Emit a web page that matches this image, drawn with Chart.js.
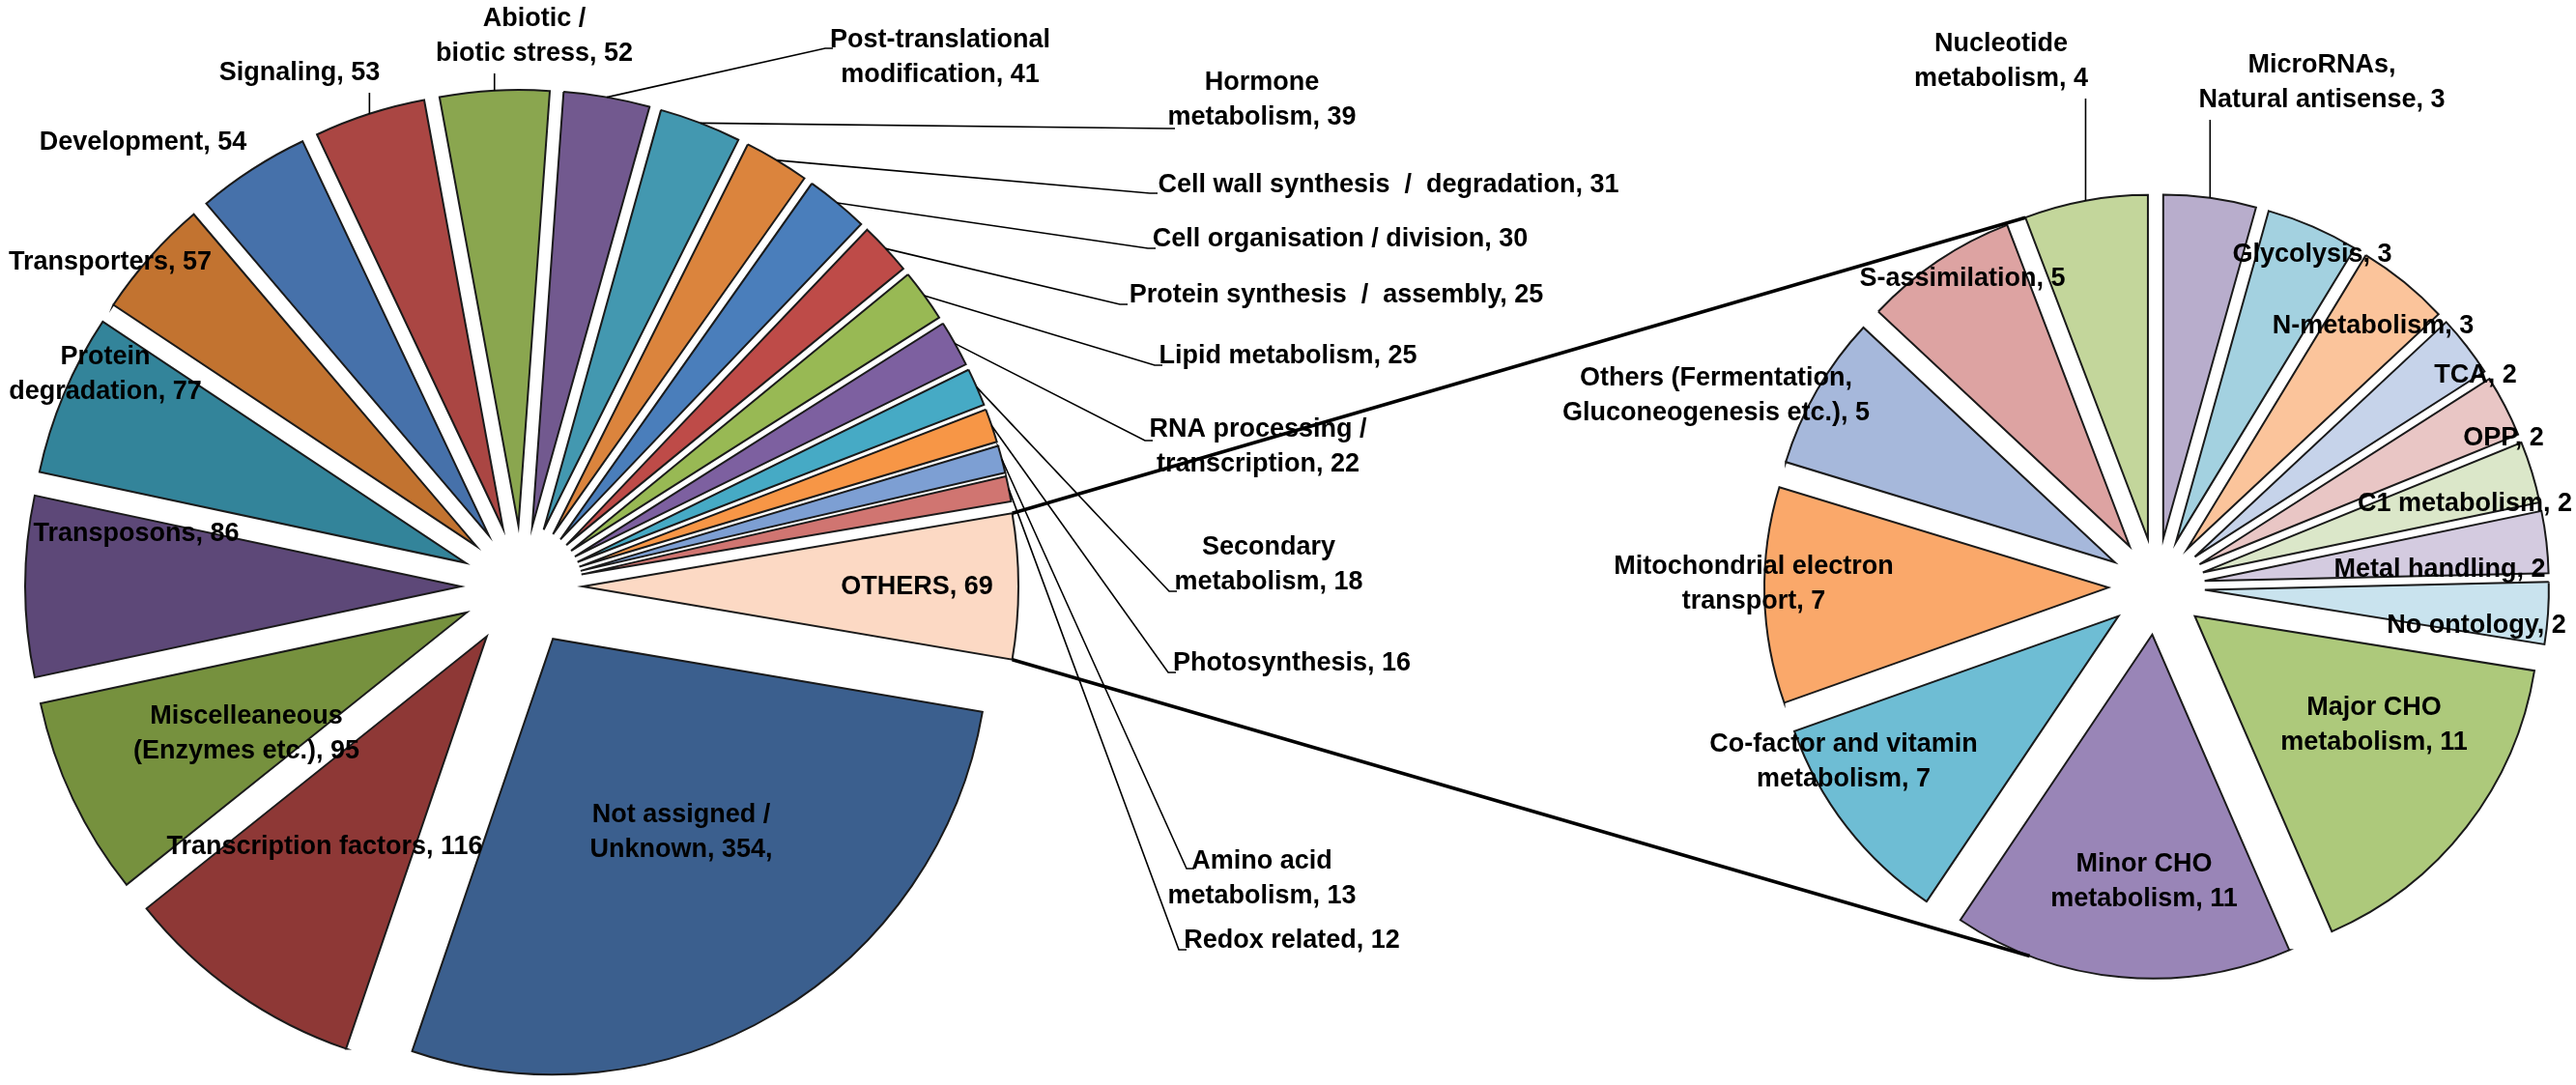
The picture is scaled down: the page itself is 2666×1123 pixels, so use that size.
<!DOCTYPE html>
<html><head><meta charset="utf-8">
<script src="https://cdn.jsdelivr.net/npm/chart.js@4.4.1/dist/chart.umd.min.js"></script>
<style>
html,body{margin:0;padding:0;background:#fff;}
#wrap{position:relative;width:2666px;height:1123px;background:#fff;}
canvas{position:absolute;left:0;top:0;}
</style></head><body>
<div id="wrap"><canvas id="leftPie" width="2666" height="1123"></canvas><canvas id="rightPie" width="2666" height="1123"></canvas></div>
<script>
// ---------- DATA (clockwise drawing order) ----------
const leftCategories = ["OTHERS", "Not assigned /\nUnknown", "Transcription factors", "Miscelleaneous\n(Enzymes etc.)", "Transposons", "Protein\ndegradation", "Transporters", "Development", "Signaling", "Abiotic /\nbiotic stress", "Post-translational\nmodification", "Hormone\nmetabolism", "Cell wall synthesis  /  degradation", "Cell organisation / division", "Protein synthesis  /  assembly", "Lipid metabolism", "RNA processing /\ntranscription", "Secondary\nmetabolism", "Photosynthesis", "Amino acid\nmetabolism", "Redox related"];
const leftValues = [69, 354, 116, 95, 86, 77, 57, 54, 53, 52, 41, 39, 31, 30, 25, 25, 22, 18, 16, 13, 12];

const rightCategories = ["MicroRNAs,\nNatural antisense", "Glycolysis", "N-metabolism", "TCA", "OPP", "C1 metabolism", "Metal handling", "No ontology", "Major CHO\nmetabolism", "Minor CHO\nmetabolism", "Co-factor and vitamin\nmetabolism", "Mitochondrial electron\ntransport", "Others (Fermentation,\nGluconeogenesis etc.)", "S-assimilation", "Nucleotide\nmetabolism"];
const rightValues = [3, 3, 3, 2, 2, 2, 2, 2, 11, 11, 7, 7, 5, 5, 4];

// ---------- STYLES ----------
const leftColors = ["#FCD9C4", "#3B5F8E", "#8E3836", "#76913E", "#5D4878", "#33849A", "#C27330", "#4671AA", "#AA4643", "#8AA64F", "#72598F", "#4398B0", "#DB843D", "#4A7EBB", "#BE4B48", "#98B954", "#7D60A0", "#46AAC5", "#F79646", "#7D9FD3", "#D07571"];
const rightColors = ["#B8ADCC", "#A3D1E0", "#FBC49B", "#C6D3EA", "#E9C6C5", "#DBE7C9", "#D4CBE0", "#C9E3EE", "#ADC97B", "#9985B7", "#6EBDD4", "#FAA86A", "#A6B8DB", "#DDA3A2", "#C3D69B"];

const FONT = 27, LH = 36;
const FONTSTR = "bold " + FONT + "px 'Liberation Sans', Arial, sans-serif";

// label placement (page pixels)
const leftLabelLayout = [
  {x:949, y:608}, {x:705, y:862}, {x:336, y:877}, {x:255, y:760}, {x:141, y:553},
  {x:109, y:388}, {x:114, y:272}, {x:148, y:148},
  {x:310, y:76, lead:'up'}, {x:553, y:38, lead:'up'},
  {x:973, y:60, lead:[854,50]}, {x:1306, y:104, lead:[1208,133]},
  {x:1437, y:192, lead:[1190,200]}, {x:1387, y:248, lead:[1188,257]},
  {x:1383, y:306, lead:[1159,315]}, {x:1333, y:369, lead:[1195,378]},
  {x:1302, y:463, lead:[1185,456]}, {x:1313, y:585, lead:[1210,612]},
  {x:1337, y:687, lead:[1209,696]}, {x:1306, y:910, lead:[1228,899]},
  {x:1337, y:974, lead:[1220,983]}
];
const rightLabelLayout = [
  {x:2403, y:86, lead:'up'}, {x:2393, y:264}, {x:2456, y:338}, {x:2562, y:389},
  {x:2591, y:454}, {x:2551, y:522}, {x:2525, y:590}, {x:2563, y:648},
  {x:2457, y:751}, {x:2219, y:913}, {x:1908, y:789}, {x:1815, y:605},
  {x:1776, y:410}, {x:2031, y:289}, {x:2071, y:64, lead:'up'}
];

function sum(a){ return a.reduce((s,v)=>s+v,0); }

function explodePlugin(dist){
  return {
    id: 'explode',
    afterDatasetsUpdate(chart){
      chart.getDatasetMeta(0).data.forEach(arc => {
        const mid = (arc.startAngle + arc.endAngle) / 2;
        arc.x += dist * Math.cos(mid);
        arc.y += dist * Math.sin(mid);
      });
    }
  };
}

function labelPlugin(cats, vals, layout){
  return {
    id: 'labels',
    afterDraw(chart){
      const ctx = chart.ctx;
      const arcs = chart.getDatasetMeta(0).data;
      ctx.save();
      ctx.font = FONTSTR;
      ctx.textAlign = 'center';
      ctx.textBaseline = 'middle';
      arcs.forEach((arc, i) => {
        const L = layout[i];
        const suffix = cats[i].startsWith('Not assigned') ? ',' : '';
        const lines = (cats[i] + ', ' + vals[i] + suffix).split('\n');
        const h = lines.length * LH;
        const top = L.y - h / 2;
        if (L.lead) {
          const mid = (arc.startAngle + arc.endAngle) / 2;
          const px = arc.x + arc.outerRadius * Math.cos(mid);
          const py = arc.y + arc.outerRadius * Math.sin(mid);
          ctx.beginPath();
          ctx.strokeStyle = '#000';
          ctx.lineWidth = 1.6;
          ctx.moveTo(px, py);
          if (L.lead === 'up') {
            ctx.lineTo(px, top + h + 2);
          } else {
            ctx.lineTo(L.lead[0], L.lead[1]);
            ctx.lineTo(L.lead[0] + 8, L.lead[1]);
          }
          ctx.stroke();
        }
        ctx.fillStyle = '#000';
        lines.forEach((s, k) => ctx.fillText(s, L.x, top + LH * (k + 0.5)));
      });
      ctx.restore();
    }
  };
}

function pieConfig(values, colors, rotation, radius, pad){
  return {
    type: 'pie',
    data: {
      labels: values.map((v,i)=>String(i)),
      datasets: [{
        data: values,
        backgroundColor: colors,
        borderColor: '#1a1a1a',
        borderWidth: 2,
        borderJoinStyle: 'miter',
        rotation: rotation,
        radius: radius,
        clip: false
      }]
    },
    options: {
      responsive: false,
      devicePixelRatio: 1,
      animation: false,
      events: [],
      layout: { padding: pad },
      plugins: { legend: { display: false }, tooltip: { enabled: false } }
    }
  };
}

// left pie: OTHERS centred on the 3 o'clock direction
const leftTotal = sum(leftValues);
const leftRotation = 90 - (leftValues[0] / leftTotal * 360) / 2;
const leftCfg = pieConfig(leftValues, leftColors, leftRotation, 451, {left:0, right:1586, top:91, bottom:0});
leftCfg.plugins = [explodePlugin(63), labelPlugin(leftCategories, leftValues, leftLabelLayout)];
const leftChart = new Chart(document.getElementById('leftPie'), leftCfg);

// connector lines between OTHERS slice and the second pie
const connectorPlugin = {
  id: 'connectors',
  afterDraw(chart){
    const ctx = chart.ctx;
    const o = leftChart.getDatasetMeta(0).data[0];
    const p1 = [o.x + o.outerRadius * Math.cos(o.startAngle), o.y + o.outerRadius * Math.sin(o.startAngle)];
    const p2 = [o.x + o.outerRadius * Math.cos(o.endAngle), o.y + o.outerRadius * Math.sin(o.endAngle)];
    const arcs = chart.getDatasetMeta(0).data;
    const last = arcs[arcs.length - 1];
    const a1 = last.startAngle;
    const q1 = [last.x + last.outerRadius * Math.cos(a1), last.y + last.outerRadius * Math.sin(a1)];
    const a2 = 2 * Math.PI - a1;
    let hit = arcs.find(a => a.startAngle <= a2 && a2 < a.endAngle) || arcs[0];
    const q2 = [hit.x + hit.outerRadius * Math.cos(a2), hit.y + hit.outerRadius * Math.sin(a2)];
    ctx.save();
    ctx.strokeStyle = '#000';
    ctx.lineWidth = 3.6;
    ctx.beginPath(); ctx.moveTo(p1[0], p1[1]); ctx.lineTo(q1[0], q1[1]); ctx.stroke();
    ctx.beginPath(); ctx.moveTo(p2[0], p2[1]); ctx.lineTo(q2[0], q2[1]); ctx.stroke();
    ctx.restore();
  }
};

const rightCfg = pieConfig(rightValues, rightColors, 0, 356, {left:1798, right:0, top:91, bottom:0});
rightCfg.plugins = [explodePlugin(50), labelPlugin(rightCategories, rightValues, rightLabelLayout), connectorPlugin];
const rightChart = new Chart(document.getElementById('rightPie'), rightCfg);
</script>
</body></html>
